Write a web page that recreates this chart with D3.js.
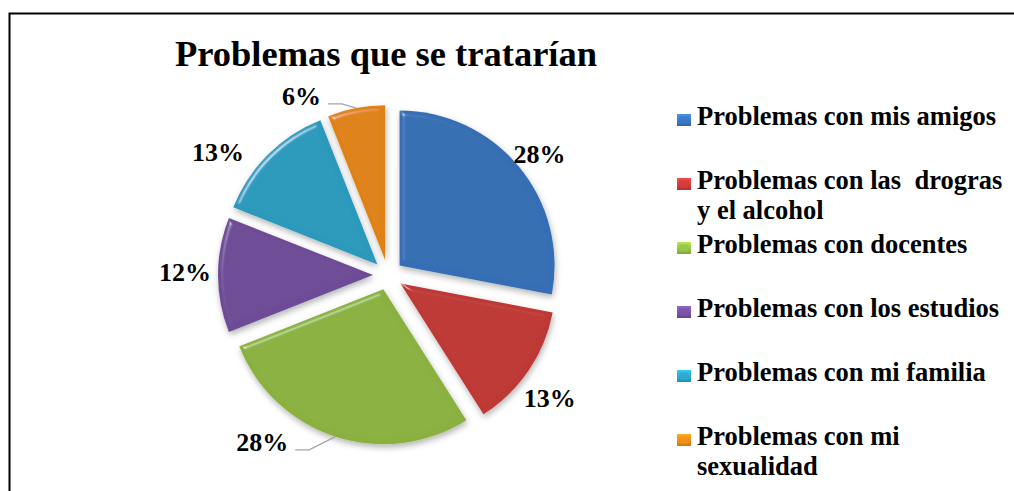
<!DOCTYPE html>
<html lang="es">
<head>
<meta charset="utf-8">
<script src="https://cdn.jsdelivr.net/npm/d3@7"></script>
<style>
  body { margin: 0; background: #fff; }
  svg text { font-family: "Liberation Serif", "Times New Roman", Times, "DejaVu Serif", serif; font-weight: bold; fill: #000; }
</style>
</head>
<body>
<script>
// data
var categories = ["Problemas con mis amigos", "Problemas con las  drogras y el alcohol",
                  "Problemas con docentes", "Problemas con los estudios",
                  "Problemas con mi familia", "Problemas con mi sexualidad"];
var values = [28, 13, 28, 12, 13, 6];
var colors = ["#3a7ac8", "#d33d3b", "#9ac546", "#7a55a7", "#2eaad0", "#f8911a"];
var title = "Problemas que se tratarían";

var w = 1014, h = 491;
var cx = 388, cy = 275, R = 155, explode = 15;
// label placement (angle nudge in degrees, distance from centre)
var labelNudge = [1, 3, 19, 1, -9, -15];
var labelDist = [194, 203, 209, 203, 210, 199];

var svg = d3.select("body").append("svg")
  .attr("width", w).attr("height", h);

var defs = svg.append("defs");

// bevel-ish filter: specular light on the blurred edges + drop shadow
var f = defs.append("filter").attr("id", "bevel")
  .attr("x", "-10%").attr("y", "-10%").attr("width", "130%").attr("height", "130%");
f.append("feGaussianBlur").attr("in", "SourceAlpha").attr("stdDeviation", 2.5).attr("result", "blur");
var spec = f.append("feSpecularLighting").attr("in", "blur")
  .attr("surfaceScale", 4).attr("specularConstant", 0.45).attr("specularExponent", 40)
  .attr("lighting-color", "#ffffff").attr("result", "spec");
spec.append("feDistantLight").attr("azimuth", 225).attr("elevation", 35);
f.append("feComposite").attr("in", "spec").attr("in2", "SourceAlpha").attr("operator", "in").attr("result", "specIn");
f.append("feComposite").attr("in", "SourceGraphic").attr("in2", "specIn")
  .attr("operator", "arithmetic").attr("k1", 0).attr("k2", 1).attr("k3", 1).attr("k4", 0).attr("result", "lit");
f.append("feGaussianBlur").attr("in", "SourceAlpha").attr("stdDeviation", 3).attr("result", "sb");
f.append("feOffset").attr("in", "sb").attr("dx", 1).attr("dy", 3).attr("result", "so");
f.append("feFlood").attr("flood-color", "#000").attr("flood-opacity", 0.3);
f.append("feComposite").attr("in2", "so").attr("operator", "in").attr("result", "shadow");
var m = f.append("feMerge");
m.append("feMergeNode").attr("in", "shadow");
m.append("feMergeNode").attr("in", "lit");

// per-colour gradient, a little darker at the rim
colors.forEach(function(c, i) {
  var g = defs.append("radialGradient").attr("id", "g" + i)
    .attr("gradientUnits", "userSpaceOnUse")
    .attr("cx", cx).attr("cy", cy).attr("r", R + explode);
  g.append("stop").attr("offset", "0%").attr("stop-color", d3.color(c).brighter(0.1));
  g.append("stop").attr("offset", "88%").attr("stop-color", c);
  g.append("stop").attr("offset", "100%").attr("stop-color", d3.color(c).darker(0.3));
  var lg = defs.append("linearGradient").attr("id", "lg" + i)
    .attr("x1", 0).attr("y1", 0).attr("x2", 0).attr("y2", 1);
  lg.append("stop").attr("offset", "0%").attr("stop-color", d3.color(c).brighter(0.5));
  lg.append("stop").attr("offset", "100%").attr("stop-color", d3.color(c).darker(0.5));
});

// frame
svg.append("path")
  .attr("d", "M9.5," + h + "V13.5H" + w)
  .attr("fill", "none").attr("stroke", "#000").attr("stroke-width", 2);

// title
svg.append("text")
  .attr("x", 386).attr("y", 66)
  .attr("text-anchor", "middle")
  .style("font-size", "36.5px")
  .text(title);

var pie = d3.pie().sort(null).value(function(d) { return d; });
var arcs = pie(values);
var arc = d3.arc().innerRadius(0).outerRadius(R);

function dir(a) { return [Math.sin(a), -Math.cos(a)]; }

var slices = svg.append("g").attr("transform", "translate(" + cx + "," + cy + ")");
slices.selectAll("path")
  .data(arcs)
  .enter().append("path")
  .attr("d", arc)
  .attr("transform", function(d) {
    var v = dir((d.startAngle + d.endAngle) / 2);
    return "translate(" + v[0] * explode + "," + v[1] * explode + ")";
  })
  .attr("fill", function(d, i) { return "url(#g" + i + ")"; })
  .attr("filter", "url(#bevel)");

// percentage labels
var fmt = function(v) { return v + "%"; };
var lab = svg.append("g");
arcs.forEach(function(d, i) {
  var mid = (d.startAngle + d.endAngle) / 2;
  var a = mid + labelNudge[i] * Math.PI / 180;
  var v = dir(a);
  var lx = cx + v[0] * labelDist[i], ly = cy + v[1] * labelDist[i];
  var t = lab.append("text")
    .attr("x", lx).attr("y", ly)
    .attr("text-anchor", "middle").attr("dy", "0.35em")
    .style("font-size", "26px")
    .text(fmt(values[i]));
  // leader line when label is pushed away from the slice
  if (Math.abs(labelNudge[i]) > 10) {
    var e = dir(mid);
    var p0 = [cx + e[0] * (R + explode), cy + e[1] * (R + explode)];
    var half = t.node().getComputedTextLength() / 2;
    var p2 = [lx + half + 7, ly + 8];
    var p1 = [p2[0] + 14, p2[1]];
    lab.append("path")
      .attr("d", d3.line()([p2, p1, p0]))
      .attr("fill", "none").attr("stroke", "#a6a6a6").attr("stroke-width", 1.3);
  }
});

// legend
var legX = 677, legTextX = 697, legTop = 125, legStep = 64, maxW = 315;
var leg = svg.append("g");
categories.forEach(function(c, i) {
  var y = legTop + i * legStep;
  leg.append("rect")
    .attr("x", legX).attr("y", y - 11).attr("width", 14).attr("height", 12)
    .attr("fill", "url(#lg" + i + ")");
  leg.append("rect")
    .attr("x", legX + 2.5).attr("y", y - 8.5).attr("width", 9).attr("height", 7)
    .attr("fill", colors[i]).attr("opacity", 0.85);
  var t = leg.append("text")
    .attr("x", legTextX).attr("y", y)
    .style("font-size", "26.5px").style("white-space", "pre");
  // simple word wrap
  var words = c.split(" "), line = "", lineNo = 0;
  var ts = t.append("tspan").attr("x", legTextX).attr("y", y);
  for (var k = 0; k < words.length; k++) {
    var test = line === "" ? words[k] : line + " " + words[k];
    ts.text(test);
    if (ts.node().getComputedTextLength() > maxW && line !== "") {
      ts.text(line);
      lineNo++;
      line = words[k];
      ts = t.append("tspan").attr("x", legTextX).attr("y", y + lineNo * 30).text(line);
    } else {
      line = test;
    }
  }
});
</script>
</body>
</html>
